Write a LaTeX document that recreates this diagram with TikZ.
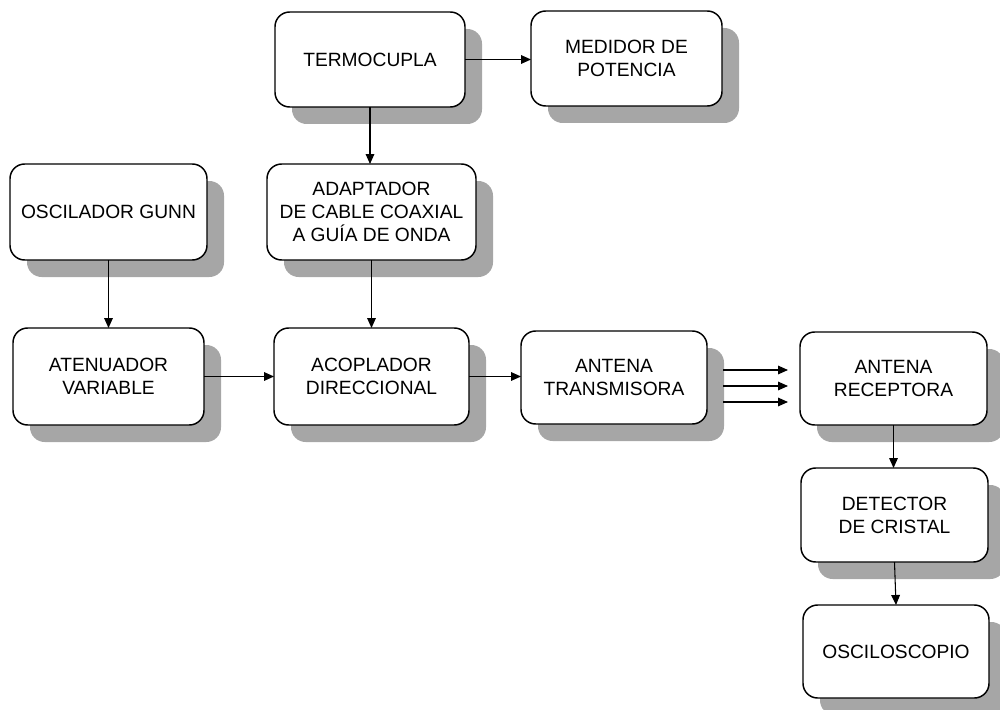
\documentclass[tikz,border=0pt]{standalone}
\usepackage{fontspec}
\setmainfont{Liberation Sans}
\usetikzlibrary{shadows,arrows.meta}
\definecolor{shadowgray}{RGB}{166,166,166}
\tikzset{
  blk/.style={draw=black, line width=1.1pt, fill=white, rounded corners=11pt,
    align=center, inner sep=0pt, outer sep=0pt,
    font=\fontsize{14.4pt}{17.25pt}\selectfont,
    general shadow={fill=shadowgray, draw=none, shadow xshift=12.75pt, shadow yshift=-12.75pt}},
  arr/.style={line width=0.8pt, -{Triangle[length=7.5pt,width=6.5pt]}}
}
\begin{document}
\begin{tikzpicture}[x=0.75pt,y=-0.75pt]
\useasboundingbox (0,0) rectangle (1000,710);
\node[blk, minimum width=142.5pt, minimum height=71.25pt] (termo) at (370,59.5) {TERMOCUPLA};
\node[blk, minimum width=143.25pt, minimum height=71.25pt] (medidor) at (626.5,58.5) {MEDIDOR DE\\POTENCIA};
\node[blk, minimum width=147.75pt, minimum height=72pt] (gunn) at (108.5,212) {OSCILADOR GUNN};
\node[blk, minimum width=156.75pt, minimum height=72pt] (adapt) at (371.5,212) {ADAPTADOR\\DE CABLE COAXIAL\\A GUÍA DE ONDA};
\node[blk, minimum width=143.25pt, minimum height=72.75pt] (aten) at (108.5,376.5) {ATENUADOR\\VARIABLE};
\node[blk, minimum width=146.25pt, minimum height=72.75pt] (acop) at (371.5,376.5) {ACOPLADOR\\DIRECCIONAL};
\node[blk, minimum width=139.5pt, minimum height=69.75pt] (trans) at (614,377.5) {ANTENA\\TRANSMISORA};
\node[blk, minimum width=140.25pt, minimum height=69.75pt] (recep) at (893.5,378.5) {ANTENA\\RECEPTORA};
\node[blk, minimum width=140.25pt, minimum height=70.5pt] (detect) at (894.5,515) {DETECTOR\\DE CRISTAL};
\node[blk, minimum width=139.5pt, minimum height=69.75pt] (osc) at (896,651.5) {OSCILOSCOPIO};

\coordinate (s1) at (723,370); \coordinate (e1) at (788,370);
\coordinate (s2) at (723,386); \coordinate (e2) at (788,386);
\coordinate (s3) at (723,402); \coordinate (e3) at (788,402);

\draw[arr] (termo.east) -- (termo.east -| medidor.west);
\draw[arr] (termo.south) -- (termo.south |- adapt.north);
\draw[arr] (gunn.south) -- (gunn.south |- aten.north);
\draw[arr] (adapt.south) -- (adapt.south |- acop.north);
\draw[arr] (aten.east) -- (aten.east -| acop.west);
\draw[arr] (acop.east) -- (acop.east -| trans.west);
\draw[arr] (s1) -- (e1);
\draw[arr] (s2) -- (e2);
\draw[arr] (s3) -- (e3);
\draw[arr] (recep.south) -- (recep.south |- detect.north);
\draw[arr] (detect.south) -- (osc.north);
\end{tikzpicture}
\end{document}
